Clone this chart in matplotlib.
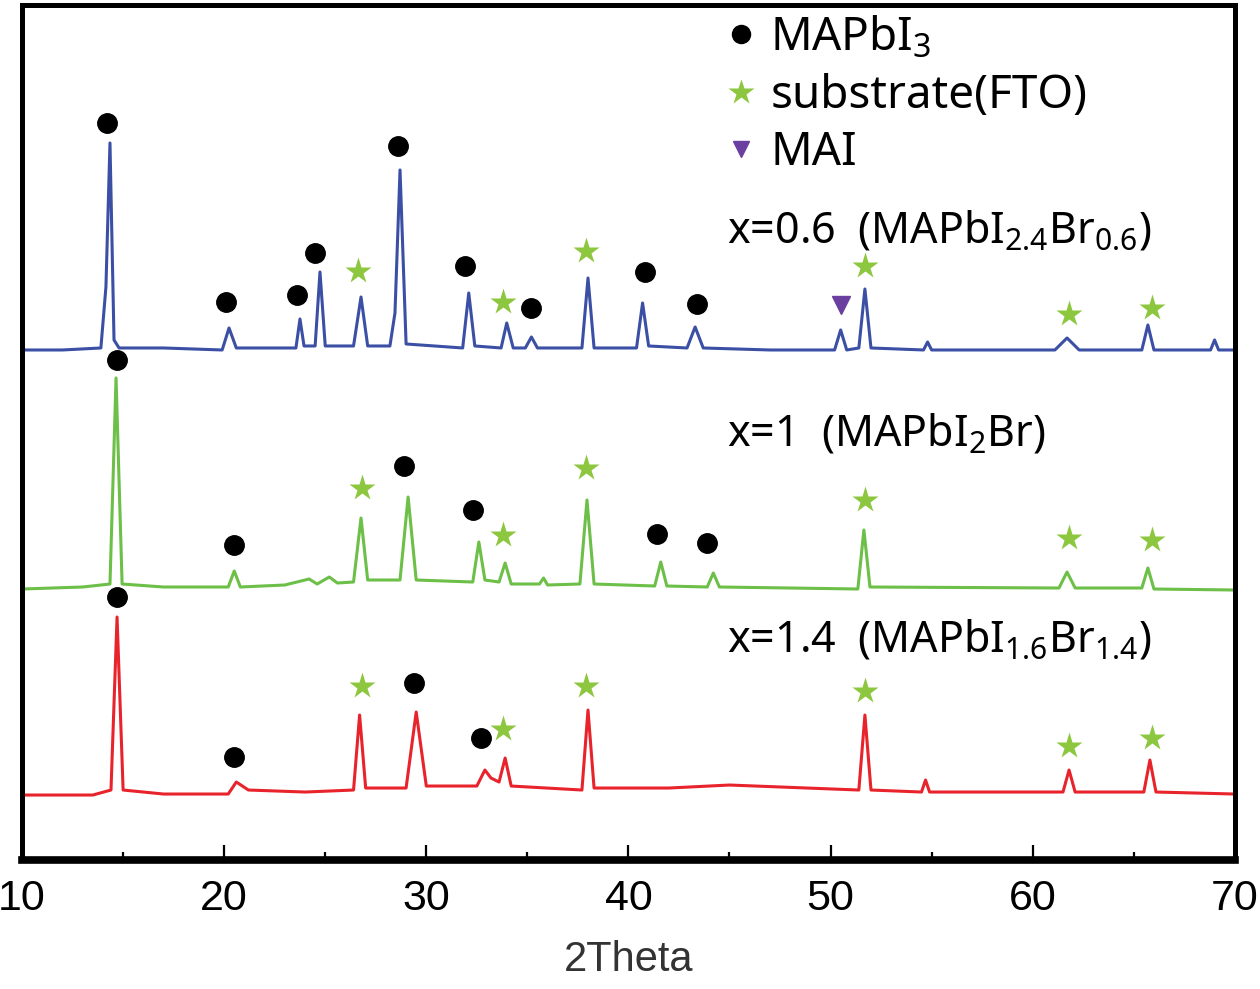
import matplotlib
matplotlib.use("Agg")
import matplotlib.pyplot as plt
from matplotlib.lines import Line2D
from matplotlib.ticker import MultipleLocator

plt.rcParams['font.family'] = ['Noto Sans', 'DejaVu Sans']
plt.rcParams['mathtext.fontset'] = 'custom'
plt.rcParams['mathtext.rm'] = 'Noto Sans'
plt.rcParams['mathtext.it'] = 'Noto Sans'

# XRD patterns, stacked (intensity already offset)
x06 = [10, 12.0, 13.9, 14.15, 14.35, 14.55, 14.8, 17.0, 19.9, 20.24, 20.6, 22.0,
       23.55, 23.75, 23.95, 24.5, 24.74, 25.0, 26.4, 26.77, 27.1, 28.2, 28.45,
       28.7, 29.0, 31.8, 32.1, 32.4, 33.7, 33.98, 34.3, 34.9, 35.2, 35.5, 37.7,
       38.0, 38.3, 40.4, 40.7, 41.0, 42.9, 43.3, 43.7, 47.0, 50.2, 50.5, 50.8,
       51.4, 51.7, 52.0, 54.6, 54.8, 55.0, 61.1, 61.7, 62.3, 65.4, 65.7, 66.0,
       68.8, 69.0, 69.2, 70]
y06 = [510, 510, 512, 573, 717, 520, 512, 512, 510, 532, 512, 512,
       512, 541, 514, 514, 588, 514, 514, 563, 514, 514, 547,
       690, 516, 512, 567, 514, 512, 537, 512, 512, 523, 512, 512,
       582, 512, 512, 557, 514, 512, 533, 512, 510, 510, 530, 510,
       512, 571, 512, 510, 518, 510, 510, 522, 510, 510, 535, 510,
       510, 520, 510, 510]

x10 = [10, 13.0, 14.35, 14.65, 14.95, 17.0, 20.2, 20.5, 20.8, 23.0, 24.2, 24.6,
       25.2, 25.6, 26.4, 26.77, 27.1, 28.7, 29.1, 29.5, 32.3, 32.6, 32.9, 33.6,
       33.9, 34.2, 35.6, 35.8, 36.0, 37.6, 37.95, 38.3, 41.3, 41.6, 41.9, 43.9,
       44.2, 44.5, 48.0, 51.35, 51.65, 51.95, 61.3, 61.7, 62.1, 65.4, 65.7, 66.0,
       70]
y10 = [271, 273, 276, 482, 276, 273, 273, 289, 273, 275, 281, 276,
       283, 277, 278, 342, 280, 280, 363, 280, 278, 318, 280, 278,
       297, 276, 276, 282, 275, 276, 360, 276, 274, 298, 274, 273,
       287, 273, 272, 271, 330, 273, 272, 288, 272, 272, 292, 271,
       270]

x14 = [10, 13.5, 14.4, 14.7, 15.0, 17.0, 20.2, 20.6, 21.2, 24.0, 26.4, 26.7,
       27.0, 29.0, 29.5, 30.0, 32.5, 32.9, 33.2, 33.6, 33.9, 34.2, 37.7, 38.0,
       38.3, 42.0, 45.0, 51.4, 51.7, 52.0, 54.5, 54.7, 54.9, 61.5, 61.8, 62.1,
       65.5, 65.8, 66.1, 70]
y14 = [65, 65, 70, 243, 70, 66, 66, 78, 70, 68, 70, 145,
       72, 72, 148, 74, 74, 90, 82, 78, 102, 74, 70, 150,
       72, 72, 75, 70, 145, 70, 68, 80, 68, 68, 90, 68,
       68, 100, 68, 66]

# peak markers (x position, height of the symbol)
dot_x = [14.2, 20.1, 23.6, 24.5, 28.6, 31.9, 35.2, 40.8, 43.4,
         14.7, 20.5, 28.9, 32.3, 41.4, 43.9,
         14.7, 20.5, 29.4, 32.7]
dot_y = [737, 558, 565, 607, 714, 594, 552, 588, 556,
         500, 315, 394, 350, 326, 317,
         263, 103, 177, 122]
star_x = [26.6, 33.8, 37.9, 51.7, 61.8, 65.9,
          26.8, 33.8, 37.9, 51.7, 61.8, 65.9,
          26.8, 33.8, 37.9, 51.7, 61.8, 65.9]
star_y = [589, 558, 609, 594, 546, 552,
          372, 325, 392, 360, 322, 320,
          174, 131, 174, 169, 114, 122]
tri_x = [50.5]
tri_y = [555]

labels = [r'x=0.6  (MAPbI$_{2.4}$Br$_{0.6}$)', r'x=1  (MAPbI$_{2}$Br)',
          r'x=1.4  (MAPbI$_{1.6}$Br$_{1.4}$)']
label_y = [628, 425, 220]

blue, green, red = '#3b4fa5', '#6cbf47', '#e8232b'
star_c, tri_c = '#8dc63f', '#6b3fa0'

fig = plt.figure(figsize=(12.6, 9.89), dpi=100)
ax = fig.add_axes([0.0175, 0.1304, 0.9625, 0.8646])

ax.plot(x06, y06, color=blue, lw=2.2)
ax.plot(x10, y10, color=green, lw=2.2)
ax.plot(x14, y14, color=red, lw=2.2)

ax.plot(dot_x, dot_y, 'o', color='black', ms=14, ls='none')
ax.plot(star_x, star_y, '*', color=star_c, ms=20, ls='none', mec='none')
ax.plot(tri_x, tri_y, 'v', color=tri_c, ms=13, ls='none')

for lab, ly in zip(labels, label_y):
    ax.text(44.9, ly, lab, fontsize=31, va='center', ha='left')

handles = [Line2D([], [], marker='o', color='black', ls='none', ms=13),
           Line2D([], [], marker='*', color=star_c, mec='none', ls='none', ms=19),
           Line2D([], [], marker='v', color=tri_c, ls='none', ms=11)]
ax.legend(handles, [r'MAPbI$_3$', 'substrate(FTO)', 'MAI'],
          loc='upper left', bbox_to_anchor=(0.566, 1.01), frameon=False,
          fontsize=33, handlelength=0.6, handletextpad=0.35, labelspacing=0.25,
          borderaxespad=0)

ax.set_xlim(10, 70)
ax.set_ylim(0, 855)
ax.set_yticks([])
ax.xaxis.set_major_locator(MultipleLocator(10))
ax.xaxis.set_minor_locator(MultipleLocator(5))
ax.tick_params(axis='x', which='major', direction='in', length=11, width=1.6,
               pad=14, labelsize=31)
ax.tick_params(axis='x', which='minor', direction='in', length=6, width=1.6)
for lab in ax.get_xticklabels():
    lab.set_fontfamily(['Liberation Sans', 'DejaVu Sans'])
for side in ['left', 'right', 'top']:
    ax.spines[side].set_linewidth(3.6)
ax.spines['bottom'].set_linewidth(5.5)

ax.set_xlabel('2Theta', fontsize=30, labelpad=15, color='#333333',
              fontfamily=['Liberation Sans', 'DejaVu Sans'])

fig.savefig('out.png', dpi=100)
